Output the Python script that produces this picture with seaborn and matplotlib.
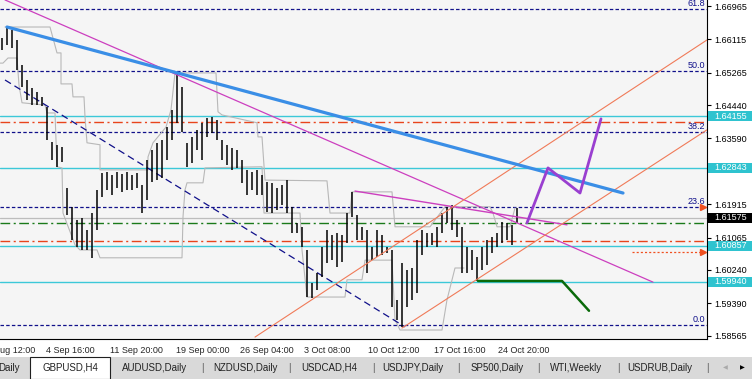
import numpy as np
import pandas as pd
import seaborn as sns
import matplotlib.pyplot as plt
from matplotlib.patches import Rectangle
from matplotlib.transforms import blended_transform_factory

# GBPUSD H4 bars (high / low per bar)
bar_high = [1.6615, 1.6641, 1.6636, 1.6610, 1.6546, 1.6508, 1.6488, 1.6478, 1.6465, 1.6439,
            1.6350, 1.6343, 1.6337, 1.6233, 1.6185, 1.6151, 1.6156, 1.6126, 1.6169, 1.6228,
            1.6271, 1.6274, 1.6266, 1.6274, 1.6269, 1.6274, 1.6266, 1.6271, 1.6241, 1.6304,
            1.6330, 1.6348, 1.6355, 1.6388, 1.6432, 1.6526, 1.6490, 1.6348, 1.6363, 1.6381,
            1.6399, 1.6411, 1.6414, 1.6406, 1.6355, 1.6343, 1.6335, 1.6330, 1.6304, 1.6279,
            1.6274, 1.6279, 1.6266, 1.6248, 1.6246, 1.6233, 1.6241, 1.6253, 1.6185, 1.6144,
            1.6134, 1.6075, 1.5991, 1.6016, 1.6083, 1.6126, 1.6113, 1.6118, 1.6113, 1.6169,
            1.6223, 1.6164, 1.6134, 1.6126, 1.6083, 1.6126, 1.6113, 1.6083, 1.6075, 1.5948,
            1.6042, 1.6024, 1.6029, 1.6100, 1.6126, 1.6118, 1.6118, 1.6134, 1.6169, 1.6185,
            1.6190, 1.6151, 1.6134, 1.6083, 1.6075, 1.6057, 1.6083, 1.6100, 1.6108, 1.6118,
            1.6146, 1.6144, 1.6139, 1.6182]
bar_low = [1.6585, 1.6597, 1.6590, 1.6534, 1.6490, 1.6457, 1.6444, 1.6444, 1.6442, 1.6355,
           1.6304, 1.6287, 1.6299, 1.6164, 1.6100, 1.6083, 1.6075, 1.6075, 1.6055, 1.6126,
           1.6210, 1.6228, 1.6215, 1.6233, 1.6223, 1.6228, 1.6228, 1.6233, 1.6169, 1.6202,
           1.6248, 1.6253, 1.6258, 1.6304, 1.6355, 1.6399, 1.6376, 1.6287, 1.6297, 1.6330,
           1.6304, 1.6363, 1.6373, 1.6355, 1.6304, 1.6292, 1.6279, 1.6284, 1.6246, 1.6215,
           1.6228, 1.6215, 1.6215, 1.6172, 1.6169, 1.6177, 1.6190, 1.6169, 1.6118, 1.6118,
           1.6083, 1.5955, 1.5953, 1.5973, 1.6006, 1.6042, 1.6049, 1.6032, 1.6044, 1.6093,
           1.6159, 1.6100, 1.6100, 1.6016, 1.6049, 1.6057, 1.6062, 1.6067, 1.5930, 1.5897,
           1.5879, 1.5930, 1.5948, 1.5965, 1.6062, 1.6083, 1.6088, 1.6083, 1.6118, 1.6144,
           1.6126, 1.6108, 1.6016, 1.6016, 1.6024, 1.5996, 1.6024, 1.6037, 1.6067, 1.6083,
           1.6093, 1.6100, 1.6088, 1.6144]

# price channel (gray step lines): bar position, price
chan_up_x = [0.6, 9.6, 11.0, 11.8, 11.8, 14.0, 14.2, 16.4, 16.6, 17.0, 19.6, 19.6, 29.2, 29.2,
             30.2, 32.8, 33.8, 34.6, 42.8, 43.2, 44.0, 51.0, 51.2, 52.0, 52.6, 65.0, 65.6,
             69.6, 70.0, 78.0, 78.6, 85.6, 88.6, 97.6, 98.2, 99.0, 101.6, 102.6]
chan_up_p = [1.6643, 1.6643, 1.6577, 1.6577, 1.6498, 1.6498, 1.6465, 1.6465, 1.6414, 1.6348,
             1.6343, 1.6279, 1.6279, 1.6312, 1.6348, 1.6388, 1.6432, 1.6526, 1.6526, 1.6427,
             1.6419, 1.6399, 1.6363, 1.6363, 1.6253, 1.6251, 1.6169, 1.6169, 1.6223, 1.6223,
             1.6134, 1.6134, 1.6185, 1.6185, 1.6169, 1.6134, 1.6134, 1.6182]
chan_dn_x = [-0.4, 0.2, 1.2, 3.0, 3.4, 4.0, 8.6, 9.0, 10.6, 11.0, 12.0, 12.2, 14.6, 15.6, 19.0,
             19.6, 36.0, 36.2, 36.6, 37.0, 40.2, 40.6, 52.0, 52.4, 59.6, 60.0, 61.0, 68.6,
             69.0, 72.0, 72.6, 78.0, 78.6, 79.6, 88.0, 89.0, 90.6, 92.4]
chan_dn_p = [1.6551, 1.6551, 1.6564, 1.6564, 1.6495, 1.6450, 1.6444, 1.6424, 1.6424, 1.6287,
             1.6284, 1.6169, 1.6088, 1.6075, 1.6075, 1.6055, 1.6055, 1.6159, 1.6228, 1.6246,
             1.6246, 1.6284, 1.6287, 1.6169, 1.6169, 1.6075, 1.5955, 1.5955, 1.5999, 1.5999,
             1.6049, 1.6049, 1.5897, 1.5871, 1.5871, 1.5948, 1.6029, 1.6029]

# trend lines: anchors (bar position, price)
blue_x, blue_p = [1.0, 124.2], [1.6643, 1.6220]
mag_long_x, mag_long_p = [0.6, 130.2], [1.6712, 1.5993]
mag_short_x, mag_short_p = [70.6, 113.0], [1.6225, 1.6139]
navy_x, navy_p = [0.6, 80.6], [1.6508, 1.5879]
chan_a_x, chan_a_p = [50.6, 141.0], [1.5853, 1.6610]
chan_b_x, chan_b_p = [80.0, 141.0], [1.5876, 1.6381]
purple_x, purple_p = [105.0, 109.2, 115.6, 119.8], [1.6144, 1.6284, 1.6220, 1.6409]
green_x, green_p = [95.2, 112.0, 117.4], [1.5996, 1.5996, 1.5920]
alert_x, alert_p = [126.0, 140.6], [1.6070, 1.6070]

# horizontal levels
cyan_levels = [1.64155, 1.62843, 1.60857, 1.59940]
red_levels = [1.6401, 1.6098]
green_levels = [1.6143]
bid_price = 1.61575
fib_names = ['61.8', '50.0', '38.2', '23.6', '0.0']
fib_prices = [1.6689, 1.6531, 1.6376, 1.6185, 1.5884]
arrow_prices = [1.6185, 1.6070]

price_ticks = [1.66965, 1.66115, 1.65265, 1.64440, 1.63590, 1.61915, 1.61065,
               1.60240, 1.59390, 1.58565]
date_pos = [-4.6, 8.2, 21.2, 34.2, 47.0, 59.8, 72.8, 85.8, 98.6]
date_labels = ['28 Aug 12:00', '4 Sep 16:00', '11 Sep 20:00', '19 Sep 00:00', '26 Sep 04:00',
               '3 Oct 08:00', '10 Oct 12:00', '17 Oct 16:00', '24 Oct 20:00']
tab_names = ['Daily', 'GBPUSD,H4', 'AUDUSD,Daily', 'NZDUSD,Daily', 'USDCAD,H4',
             'USDJPY,Daily', 'SP500,Daily', 'WTI,Weekly', 'USDRUB,Daily']
tab_centers = [9, 70, 155, 245, 329, 413, 497, 576, 660]

sns.set_style("white")
plt.rcParams['font.family'] = ['Liberation Sans', 'DejaVu Sans']
plt.rcParams['lines.scale_dashes'] = False

W, H = 752, 379
fig = plt.figure(figsize=(W / 100, H / 100), dpi=100)
fig.patch.set_facecolor('white')
ax = fig.add_axes([0, 1 - 339 / H, 707 / W, 339 / H])
ax.set_facecolor('#f5f5f5')
ax.set_xlim(-0.4, 141.0)
ax.set_ylim(1.58481, 1.67118)

cyan = '#3cc8d8'
navy = '#10108a'

# horizontal lines
for p in cyan_levels:
    ax.axhline(p, color=cyan, lw=1.0, zorder=1)
for p in red_levels:
    ax.axhline(p, color='#e8441c', lw=1.0, dashes=(7, 2.5, 1.5, 2.5), zorder=1)
for p in green_levels:
    ax.axhline(p, color='#1a7a1a', lw=1.0, dashes=(7, 2.5, 1.5, 2.5), zorder=1)
for p in fib_prices:
    ax.axhline(p, color=navy, lw=0.9, dashes=(2.5, 1.6), zorder=1)
ax.axhline(bid_price, color='#bdbdbd', lw=0.9, zorder=1)

# price channel
ax.plot(chan_up_x, chan_up_p, color='#b8b8b8', lw=0.8, zorder=2)
ax.plot(chan_dn_x, chan_dn_p, color='#b8b8b8', lw=0.8, zorder=2)

# bars
idx = np.arange(len(bar_high))
ax.vlines(idx, bar_low, bar_high, color='black', lw=1.1, zorder=3)

# trend lines
ax.plot(navy_x, navy_p, color=navy, lw=0.9, dashes=(5, 3), zorder=2)
sns.lineplot(x=mag_long_x, y=mag_long_p, color='#cc3fbf', lw=0.9, ax=ax, zorder=4)
sns.lineplot(x=mag_short_x, y=mag_short_p, color='#cc3fbf', lw=1.0, ax=ax, zorder=4)
sns.lineplot(x=chan_a_x, y=chan_a_p, color='#f07a58', lw=0.8, ax=ax, zorder=4)
sns.lineplot(x=chan_b_x, y=chan_b_p, color='#f07a58', lw=0.8, ax=ax, zorder=4)
sns.lineplot(x=blue_x, y=blue_p, color='#3a8ee6', lw=2.3, ax=ax, zorder=5)
sns.lineplot(x=purple_x, y=purple_p, color='#9a3fd0', lw=2.0, ax=ax, sort=False,
             estimator=None, zorder=5)
sns.lineplot(x=green_x, y=green_p, color='#0a6a0a', lw=1.8, ax=ax, sort=False,
             estimator=None, zorder=5)
ax.plot(alert_x, alert_p, color='#f05020', lw=0.9, dashes=(1.5, 1.5), zorder=4)
ax.plot([140.2] * len(arrow_prices), arrow_prices, ls='none', marker='>', ms=4,
        color='#f05020', zorder=5)

for name, p in zip(fib_names, fib_prices):
    ax.text(140.6, p + 0.00015, name, ha='right', va='bottom', color=navy, fontsize=6.5,
            zorder=6)

# axes
for s in ['top', 'left']:
    ax.spines[s].set_visible(False)
for s in ['right', 'bottom']:
    ax.spines[s].set_color('black')
    ax.spines[s].set_linewidth(0.8)
ax.yaxis.tick_right()
ax.set_yticks(price_ticks)
ax.set_yticklabels([f'{p:.5f}' for p in price_ticks])
ax.tick_params(axis='y', direction='out', length=3, width=0.8, pad=2, labelsize=6.5,
               colors='black')
ax.set_xticks([d for d in date_pos if d > -0.4])
ax.set_xticklabels([])
ax.tick_params(axis='x', direction='out', length=3, width=0.8)
trans = blended_transform_factory(ax.transData, ax.transAxes)
for d, lab in zip(date_pos, date_labels):
    ax.text(d + 0.5, -0.022, lab, transform=trans, ha='left', va='top', fontsize=6.5,
            clip_on=False)

# price labels on the axis
ytr = blended_transform_factory(ax.transAxes, ax.transData)
hh = 5.0 / 3925
box_w = 44 / 707
for p in cyan_levels:
    ax.add_patch(Rectangle((1.002, p - hh), box_w, 2 * hh, transform=ytr, fc='#2fc3cf',
                           ec='none', clip_on=False, zorder=7))
    ax.text(1.002 + box_w / 2, p, f'{p:.5f}', transform=ytr, ha='center', va='center',
            color='white', fontsize=6.5, clip_on=False, zorder=8)
ax.add_patch(Rectangle((1.002, bid_price - hh), box_w, 2 * hh, transform=ytr, fc='black',
                       ec='none', clip_on=False, zorder=7))
ax.text(1.002 + box_w / 2, bid_price, f'{bid_price:.5f}', transform=ytr, ha='center',
        va='center', color='white', fontsize=6.5, clip_on=False, zorder=8)

# symbol tabs at the bottom
fig.patches.append(Rectangle((0, 0), 1, 22 / H, transform=fig.transFigure, fc='#d9d9d9',
                             ec='none', zorder=0))
fig.patches.append(Rectangle((30 / W, 0), 80 / W, 22 / H, transform=fig.transFigure,
                             fc='white', ec='#202020', lw=0.8, zorder=1))
for name, cx in zip(tab_names, tab_centers):
    fig.text(cx / W, 11 / H, name, ha='center', va='center', fontsize=7, color='#222222')
for sx in [202, 289, 373, 458, 538, 618, 707]:
    fig.text(sx / W, 11 / H, '|', ha='center', va='center', fontsize=7, color='#555555')
fig.text(725 / W, 11 / H, '◀', ha='center', va='center', fontsize=4.5, color='#aaaaaa',
         family='DejaVu Sans')
fig.text(742 / W, 11 / H, '▶', ha='center', va='center', fontsize=4.5, color='black',
         family='DejaVu Sans')

fig.savefig('out.png', dpi=100)
